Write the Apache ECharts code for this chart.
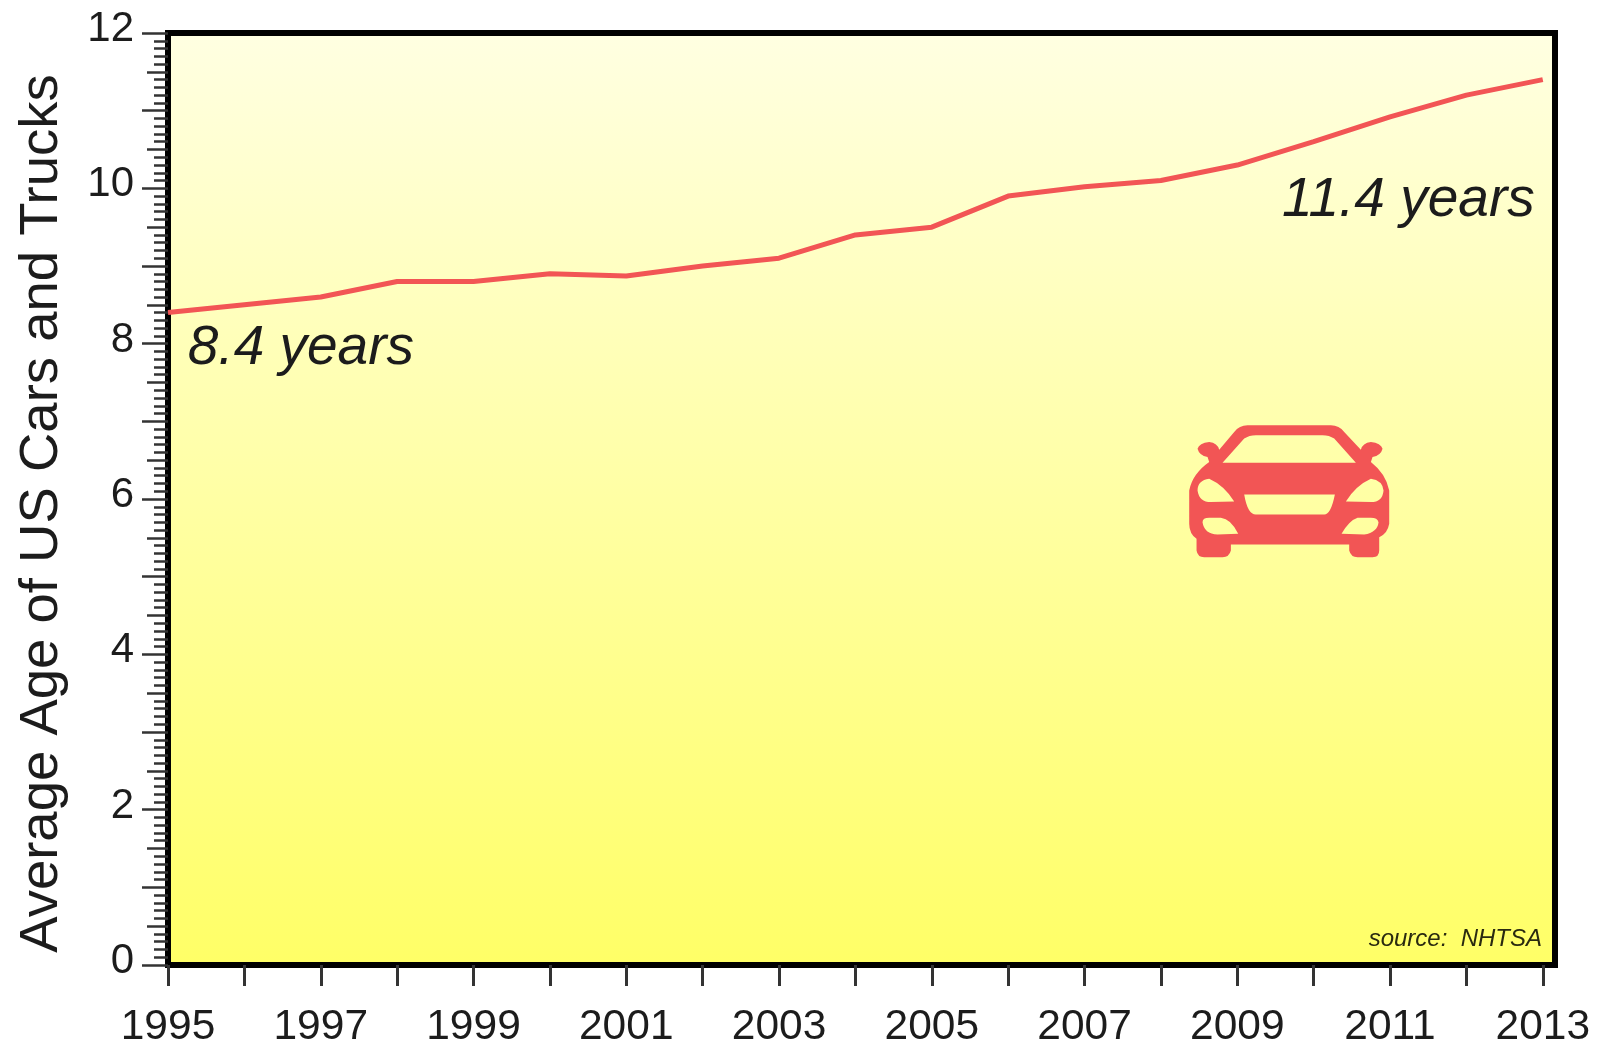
<!DOCTYPE html>
<html><head><meta charset="utf-8">
<style>html,body{margin:0;padding:0;background:#fff;overflow:hidden}#c{width:1606px;height:1049px}</style>
<script src="https://cdn.jsdelivr.net/npm/echarts@6/dist/echarts.min.js"></script>
</head><body><div id="c"></div>
<script>
const years = [1995,1996,1997,1998,1999,2000,2001,2002,2003,2004,2005,2006,2007,2008,2009,2010,2011,2012,2013];
const ages = [8.4,8.5,8.6,8.8,8.8,8.9,8.87,9.0,9.1,9.4,9.5,9.9,10.02,10.1,10.3,10.6,10.92,11.2,11.4];
const xTickLabels = [1995,1997,1999,2001,2003,2005,2007,2009,2011,2013];
const yTitle = 'Average Age of US Cars and Trucks';
const notes = [[1996.74,7.94,'8.4 years'],[2011.24,9.84,'11.4 years']];
const sourceNote = [[2012.99,0.33,'source:  NHTSA']];
const carAt = [[2009.68,6.1]];
const carPath = 'path://M350,105 L600,105 Q625,105 640,125 L690,178 Q695,158 720,155 Q750,158 755,175 Q750,195 725,200 L720,215 Q765,250 775,300 L775,400 Q770,430 745,440 L745,480 Q745,500 725,500 L680,500 Q660,500 655,480 L655,462 L300,462 L300,480 Q295,500 275,500 L220,500 Q200,500 197,480 L197,445 Q175,430 175,400 L175,300 Q185,250 235,215 L230,200 Q205,195 200,175 Q205,158 235,155 Q260,158 265,178 L310,125 Q325,105 350,105 Z '
 + 'M275,217 L675,217 L610,145 Q595,135 575,135 L375,135 Q355,135 340,145 Z '
 + 'M200,300 Q205,335 240,335 L310,333 Q280,285 235,265 Q200,270 200,300 Z '
 + 'M645,333 L720,335 Q755,335 758,300 Q755,270 720,265 Q675,285 645,333 Z '
 + 'M340,312 Q350,372 375,372 L580,372 Q600,372 612,312 Z '
 + 'M215,395 Q220,430 260,432 L322,430 Q300,385 270,382 L235,382 Q215,382 215,395 Z '
 + 'M632,430 L700,432 Q740,425 743,395 Q740,382 720,382 L680,382 Q655,390 632,430 Z';
const font = '"Liberation Sans", Arial, sans-serif';
const ink = '#1c1c1c', tickInk = '#333', red = '#f25555';
const chart = echarts.init(document.getElementById('c'), null, {renderer:'canvas'});
const yBase = {type:'value', min:0, max:12, splitLine:{show:false}, axisLine:{show:false}};
chart.setOption({
  animation:false,
  backgroundColor:'#fff',
  grid:{left:168, right:51, top:33, bottom:84, show:true, borderColor:'#000', borderWidth:6,
    backgroundColor:new echarts.graphic.LinearGradient(0,0,0,1,[{offset:0,color:'#ffffe2'},{offset:1,color:'#ffff66'}])},
  xAxis:{type:'value', min:1995, max:2013.16, splitLine:{show:false}, axisLine:{show:false},
    axisTick:{length:21, customValues:years, lineStyle:{color:tickInk,width:3}},
    axisLabel:{customValues:xTickLabels, formatter:v=>String(v), fontFamily:font, fontSize:42.5, color:ink, margin:41, hideOverlap:false}},
  yAxis:[
    Object.assign({},yBase,{interval:2, name:yTitle, nameLocation:'middle', nameGap:99, nameTextStyle:{fontFamily:font,fontSize:54.5,color:ink,padding:[0,29,0,0]},
      axisTick:{show:false}, axisLabel:{formatter:'{a|{value}}', margin:34,
        rich:{a:{fontFamily:font,fontSize:42,color:ink,padding:[0,0,7,0]}}}}),
    Object.assign({},yBase,{position:'left', interval:1, axisLabel:{show:false},
      axisTick:{length:26, lineStyle:{color:tickInk,width:2.5}},
      minorTick:{show:true, splitNumber:10, length:14, lineStyle:{color:tickInk,width:2.5}}}),
    Object.assign({},yBase,{position:'left', interval:0.5, axisLabel:{show:false},
      axisTick:{length:21, lineStyle:{color:tickInk,width:2.5}}})
  ],
  series:[
    {type:'line', data:years.map((y,i)=>[y,ages[i]]), showSymbol:false, lineStyle:{color:red,width:5}, z:3},
    {type:'scatter', data:carAt, symbol:carPath, symbolSize:[200,132], itemStyle:{color:red,opacity:1}, z:3},
    {type:'scatter', data:notes, symbolSize:0, itemStyle:{opacity:1}, z:4, label:{show:true, position:'inside', formatter:p=>p.value[2], fontFamily:font, fontStyle:'italic', fontSize:55, color:ink}},
    {type:'scatter', data:sourceNote, symbolSize:0, itemStyle:{opacity:1}, z:4, label:{show:true, position:'left', distance:0, formatter:p=>p.value[2], fontFamily:font, fontStyle:'italic', fontSize:24, color:'#2a2a10'}}
  ]
});
</script></body></html>
